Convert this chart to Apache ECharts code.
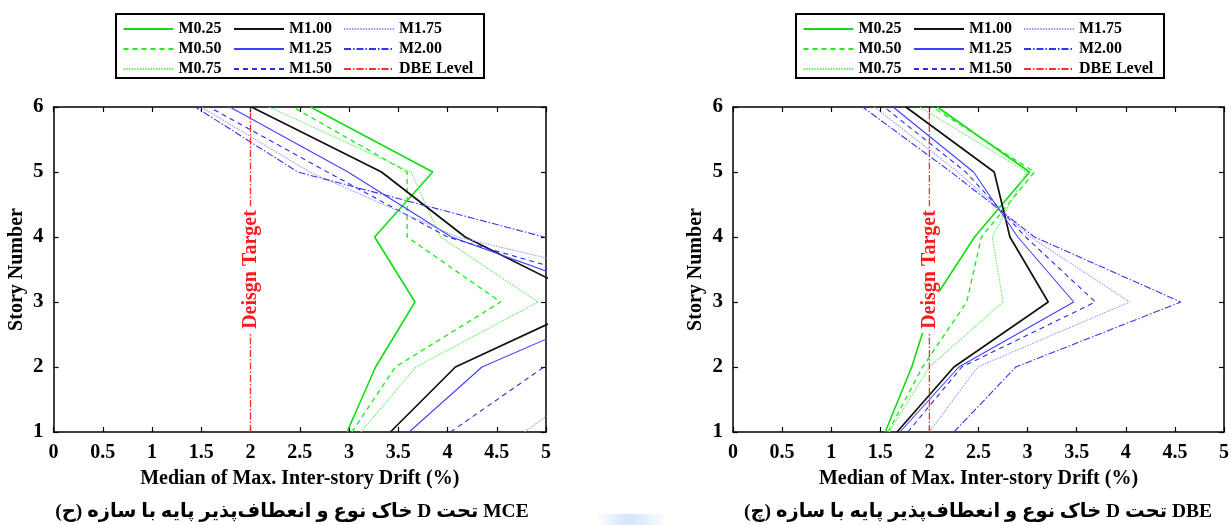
<!DOCTYPE html>
<html>
<head>
<meta charset="utf-8">
<script src="https://cdn.jsdelivr.net/npm/echarts@6/dist/echarts.min.js"></script>
<style>
  html, body { margin: 0; padding: 0; background: #fff; }
  #chart { width: 1232px; height: 525px; }
</style>
</head>
<body>
<div id="chart"></div>
<script>
// Story levels (y values)
const stories = [1, 2, 3, 4, 5, 6];

// Median of max. inter-story drift (%) per story, MCE hazard level
const mce_M025 = [2.98, 3.27, 3.67, 3.26, 3.85, 2.61];
const mce_M050 = [3.03, 3.47, 4.54, 3.59, 3.59, 2.43];
const mce_M075 = [3.12, 3.68, 4.92, 3.93, 3.63, 2.19];
const mce_M100 = [3.42, 4.08, 5.50, 4.18, 3.33, 2.01];
const mce_M125 = [3.61, 4.35, 5.87, 4.04, 2.99, 1.79];
const mce_M150 = [4.03, 4.98, 6.30, 4.00, 2.78, 1.58];
const mce_M175 = [4.78, 5.71, 6.90, 4.10, 2.60, 1.50];
const mce_M200 = [5.60, 6.40, 7.60, 4.98, 2.48, 1.44];

// Median of max. inter-story drift (%) per story, DBE hazard level
const dbe_M025 = [1.55, 1.82, 2.03, 2.46, 3.02, 2.08];
const dbe_M050 = [1.58, 1.93, 2.38, 2.53, 3.07, 2.03];
const dbe_M075 = [1.59, 2.00, 2.75, 2.64, 2.99, 1.90];
const dbe_M100 = [1.67, 2.25, 3.21, 2.82, 2.66, 1.76];
const dbe_M125 = [1.70, 2.30, 3.47, 2.90, 2.45, 1.63];
const dbe_M150 = [1.78, 2.33, 3.69, 2.98, 2.37, 1.54];
const dbe_M175 = [2.00, 2.49, 4.04, 3.03, 2.29, 1.44];
const dbe_M200 = [2.25, 2.88, 4.56, 3.07, 2.22, 1.32];

// Design target drift and where its label sits
const designDrift = 2;
const designLabelStory = 3.5;
const designLabel = 'Deisgn Target';

const seriesNames = ['M0.25', 'M0.50', 'M0.75', 'M1.00', 'M1.25', 'M1.50', 'M1.75', 'M2.00'];
const levelName = 'DBE Level';
const legendColumns = [
  ['M0.25', 'M0.50', 'M0.75'],
  ['M1.00', 'M1.25', 'M1.50'],
  ['M1.75', 'M2.00', 'DBE Level']
];

const xAxisTitle = 'Median of Max. Inter-story Drift (%)';
const yAxisTitle = 'Story Number';
const captionMCEWords = ['(ح)', 'سازه', 'با', 'پایه', 'انعطاف\u200Cپذیر', 'و', 'نوع', 'خاک', 'D', 'تحت', 'MCE'];
const captionDBEWords = ['(چ)', 'سازه', 'با', 'پایه', 'انعطاف\u200Cپذیر', 'و', 'نوع', 'خاک', 'D', 'تحت', 'DBE'];

const mceValues = [mce_M025, mce_M050, mce_M075, mce_M100, mce_M125, mce_M150, mce_M175, mce_M200];
const dbeValues = [dbe_M025, dbe_M050, dbe_M075, dbe_M100, dbe_M125, dbe_M150, dbe_M175, dbe_M200];

// ---- styling ----
const FONT = '"Liberation Serif", "Times New Roman", serif';
const CAPTION_FONT = '"Liberation Serif", "DejaVu Sans", serif';
const lineStyles = {
  'M0.25': { color: '#11dd11', width: 1.6, type: 'solid' },
  'M0.50': { color: '#22ee22', width: 1.4, type: [5, 4] },
  'M0.75': { color: '#66ee66', width: 1.1, type: [1.5, 1.2] },
  'M1.00': { color: '#111111', width: 1.7, type: 'solid' },
  'M1.25': { color: '#4040ff', width: 1.1, type: 'solid' },
  'M1.50': { color: '#2a2aee', width: 1.1, type: [5, 4] },
  'M1.75': { color: '#9a9aff', width: 1.1, type: [1.5, 1.2] },
  'M2.00': { color: '#3535ee', width: 1.1, type: [7, 2, 1.5, 2] },
  'DBE Level': { color: '#ff2a2a', width: 1.3, type: [7, 2, 1.5, 2] }
};

const grids = [
  { left: 53.5, top: 107, width: 492.5, height: 325 },
  { left: 733, top: 107, width: 492.5, height: 325 }
];

function xAxisPair(gridIndex) {
  const common = {
    gridIndex, type: 'value', min: 0, max: 5, interval: 0.5,
    axisLine: { show: true, onZero: false, lineStyle: { color: '#000', width: 1.5 } },
    axisTick: { show: true, inside: true, length: 5, lineStyle: { color: '#000', width: 1.2 } },
    splitLine: { show: false }
  };
  return [
    Object.assign({}, common, {
      position: 'bottom',
      axisLabel: { show: true, margin: 11, color: '#000', fontFamily: FONT, fontWeight: 'bold', fontSize: 20 },
      name: xAxisTitle, nameLocation: 'middle', nameGap: 37,
      nameTextStyle: { color: '#000', fontFamily: FONT, fontWeight: 'bold', fontSize: 20 }
    }),
    Object.assign({}, common, { position: 'top', axisLabel: { show: false } })
  ];
}

function yAxisPair(gridIndex) {
  const common = {
    gridIndex, type: 'value', min: 1, max: 6, interval: 1,
    axisLine: { show: true, onZero: false, lineStyle: { color: '#000', width: 1.5 } },
    axisTick: { show: true, inside: true, length: 5, lineStyle: { color: '#000', width: 1.2 } },
    splitLine: { show: false }
  };
  return [
    Object.assign({}, common, {
      position: 'left',
      axisLabel: { show: true, margin: 10, color: '#000', fontFamily: FONT, fontWeight: 'bold', fontSize: 21 },
      name: yAxisTitle, nameLocation: 'middle', nameGap: 27, nameRotate: 90,
      nameTextStyle: { color: '#000', fontFamily: FONT, fontWeight: 'bold', fontSize: 20 }
    }),
    Object.assign({}, common, { position: 'right', axisLabel: { show: false } })
  ];
}

function panelSeries(values, axisIndex) {
  const list = seriesNames.map((name, i) => ({
    name, type: 'line',
    xAxisIndex: axisIndex, yAxisIndex: axisIndex,
    symbol: 'none', clip: true,
    lineStyle: lineStyles[name],
    itemStyle: { color: lineStyles[name].color },
    data: stories.map((s, k) => [values[i][k], s])
  }));
  list.push({
    name: levelName, type: 'line',
    xAxisIndex: axisIndex, yAxisIndex: axisIndex,
    symbol: 'none', clip: true,
    lineStyle: lineStyles[levelName],
    itemStyle: { color: lineStyles[levelName].color },
    data: [[designDrift, stories[0]], [designDrift, stories[stories.length - 1]]],
    markPoint: {
      symbol: 'rect', symbolSize: 1, silent: true,
      itemStyle: { color: 'rgba(0,0,0,0)' },
      label: {
        show: true, position: 'inside', rotate: 90, formatter: designLabel,
        color: '#ff1a1a', fontFamily: FONT, fontWeight: 'bold', fontSize: 20,
        backgroundColor: '#fff', padding: [0, 4, 0, 4]
      },
      data: [{ coord: [designDrift, designLabelStory] }]
    }
  });
  return list;
}

function legendsAt(offsetX) {
  const colLeft = [122.5, 233, 343];
  return legendColumns.map((names, c) => ({
    orient: 'vertical', left: offsetX + colLeft[c], top: 21,
    itemWidth: 50, itemHeight: 14, itemGap: 4, padding: 0,
    selectedMode: false,
    itemStyle: { opacity: 0, borderWidth: 0 },
    textStyle: { color: '#000', fontFamily: FONT, fontWeight: 'bold', fontSize: 16 },
    data: names
  }));
}

// Each word is its own rich-text token, laid out left to right
function captionText(words) {
  return words.map(w => '{w|' + w + '}').join('{w| }');
}

function captionGraphic(words, cx) {
  return {
    type: 'text', x: cx, y: 512,
    style: {
      text: captionText(words),
      fontFamily: CAPTION_FONT, fontWeight: 'bold', fontSize: 19.5, fill: '#000',
      textAlign: 'center', textVerticalAlign: 'middle', align: 'center', verticalAlign: 'middle',
      rich: { w: { fontFamily: CAPTION_FONT, fontWeight: 'bold', fontSize: 19.5, fill: '#000', color: '#000' } }
    }
  };
}

const chart = echarts.init(document.getElementById('chart'), null, { renderer: 'canvas' });
chart.setOption({
  animation: false,
  backgroundColor: '#fff',
  grid: grids,
  xAxis: xAxisPair(0).concat(xAxisPair(1)),
  yAxis: yAxisPair(0).concat(yAxisPair(1)),
  legend: legendsAt(0).concat(legendsAt(680)),
  series: panelSeries(mceValues, 0).concat(panelSeries(dbeValues, 2)),
  graphic: [
    { type: 'rect', z: 0, shape: { x: 116, y: 14, width: 368, height: 64 },
      style: { fill: 'none', stroke: '#000', lineWidth: 2 } },
    { type: 'rect', z: 0, shape: { x: 796, y: 14, width: 368, height: 64 },
      style: { fill: 'none', stroke: '#000', lineWidth: 2 } },
    captionGraphic(captionMCEWords, 292),
    captionGraphic(captionDBEWords, 978),
    { type: 'rect', z: -1, shape: { x: 596, y: 514, width: 72, height: 11 },
      style: { fill: new echarts.graphic.LinearGradient(0, 0, 1, 0, [
        { offset: 0, color: 'rgba(205,225,250,0)' },
        { offset: 0.45, color: 'rgba(205,225,250,0.9)' },
        { offset: 1, color: 'rgba(205,225,250,0)' }
      ]) } }
  ]
});
</script>
</body>
</html>
